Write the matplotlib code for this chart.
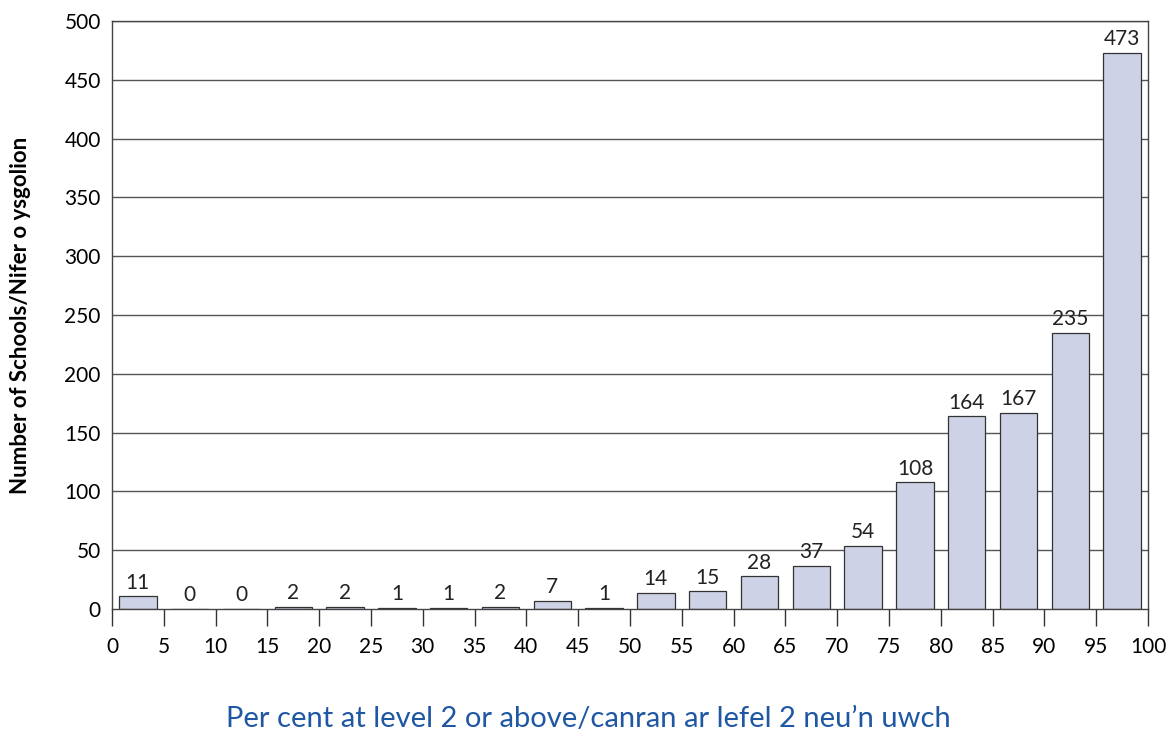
import matplotlib.pyplot as plt
import numpy as np

# Distribution of schools by per cent at level 2 or above
bin_starts = [0, 5, 10, 15, 20, 25, 30, 35, 40, 45, 50, 55, 60, 65, 70, 75, 80, 85, 90, 95]
counts = [11, 0, 0, 2, 2, 1, 1, 2, 7, 1, 14, 15, 28, 37, 54, 108, 164, 167, 235, 473]
x_ticks = list(range(0, 105, 5))
y_ticks = list(range(0, 550, 50))

plt.rcParams["font.family"] = ["Lato", "DejaVu Sans"]

fig = plt.figure(figsize=(11.76, 7.32), dpi=100)
ax = fig.add_axes([0.0952, 0.168, 0.881, 0.8032])

centers = np.array(bin_starts) + 2.5
ax.set_axisbelow(True)
for y in y_ticks[1:]:
    ax.axhline(y, color="#555555", linewidth=1.0, zorder=0)
bars = ax.bar(centers, counts, width=3.6, color="#cdd2e6", edgecolor="#333333", linewidth=0.9, zorder=2)
for c, v in zip(centers, counts):
    ax.text(c, v + 3, str(v), ha="center", va="bottom", fontsize=15, color="#222222")

ax.set_xlim(0, 100)
ax.set_ylim(0, 500)
ax.set_xticks(x_ticks)
ax.set_yticks(y_ticks)
ax.tick_params(axis="x", direction="out", length=12, width=1.0, color="#333333", labelsize=15, pad=8)
ax.tick_params(axis="y", length=0, labelsize=15, pad=8)
for s in ax.spines.values():
    s.set_color("#444444")
    s.set_linewidth(1.0)

ax.set_ylabel("Number of Schools/Nifer o ysgolion", fontsize=16, fontweight="bold")
ax.yaxis.set_label_coords(-0.078, 0.5)
fig.text(0.5, 0.0, "Per cent at level 2 or above/canran ar lefel 2 neu\u2019n uwch",
         ha="center", va="bottom", fontsize=21, color="#1f57a3")

fig.savefig("out.png", dpi=100)
